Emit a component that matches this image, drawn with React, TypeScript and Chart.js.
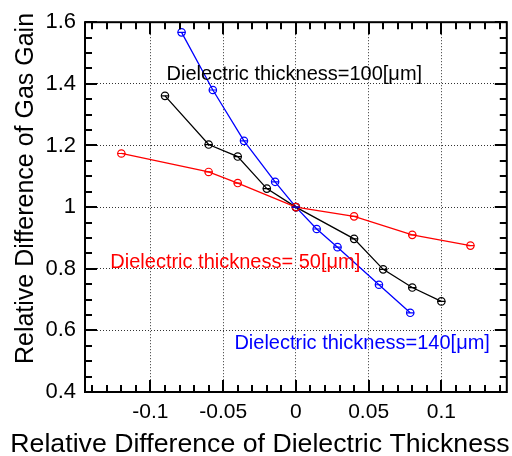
import React, { useEffect, useRef } from "react";
import { Chart, registerables } from "chart.js";
Chart.register(...registerables);

// Data (relative difference of dielectric thickness vs relative difference of gas gain)
const x140 = [-0.0786, -0.0571, -0.0357, -0.0143, 0, 0.0143, 0.0286, 0.0571, 0.0786];
const y140 = [1.567, 1.38, 1.215, 1.082, 1.0, 0.929, 0.87, 0.748, 0.657];
const x100 = [-0.09, -0.06, -0.04, -0.02, 0, 0.04, 0.06, 0.08, 0.1];
const y100 = [1.361, 1.203, 1.164, 1.06, 1.0, 0.897, 0.798, 0.739, 0.694];
const x50 = [-0.12, -0.06, -0.04, 0, 0.04, 0.08, 0.12];
const y50 = [1.174, 1.114, 1.078, 1.0, 0.97, 0.91, 0.875];

const xTicks = [-0.1, -0.05, 0, 0.05, 0.1];
const yTicks = [0.4, 0.6, 0.8, 1, 1.2, 1.4, 1.6];

const labels = [
  { text: "Dielectric thickness=100[\u03bcm]", color: "#000000", x: -0.0889, y: 1.411 },
  { text: "Dielectric thickness= 50[\u03bcm]", color: "#ff0000", x: -0.1276, y: 0.803 },
  { text: "Dielectric thickness=140[\u03bcm]", color: "#0000ff", x: -0.0423, y: 0.54 },
];

const xTitle = "Relative Difference of Dielectric Thickness";
const yTitle = "Relative Difference of Gas Gain";
const FONT = '"Liberation Sans", Arial, sans-serif';

const toPts = (xs: number[], ys: number[]) => xs.map((x, i) => ({ x, y: ys[i] }));

const framePlugin = {
  id: "frame",
  afterDatasetsDraw(chart: any) {
    const { ctx, chartArea: a, scales } = chart;
    const xs = scales.x;
    const ys = scales.y;
    ctx.save();
    // horizontal bars through markers
    chart.data.datasets.forEach((ds: any, di: number) => {
      const meta = chart.getDatasetMeta(di);
      ctx.strokeStyle = ds.borderColor;
      ctx.lineWidth = 1.2;
      ctx.beginPath();
      meta.data.forEach((p: any) => {
        ctx.moveTo(p.x - 4, p.y);
        ctx.lineTo(p.x + 4, p.y);
      });
      ctx.stroke();
    });
    // frame
    ctx.strokeStyle = "#000";
    ctx.lineWidth = 2;
    ctx.strokeRect(a.left, a.top, a.right - a.left, a.bottom - a.top);
    ctx.beginPath();
    for (let i = -14; i <= 14; i++) {
      const px = Math.round(xs.getPixelForValue(i / 100));
      const len = i % 5 === 0 ? 12 : 7;
      ctx.moveTo(px, a.bottom);
      ctx.lineTo(px, a.bottom - len);
      ctx.moveTo(px, a.top);
      ctx.lineTo(px, a.top + len);
    }
    for (let i = 8; i <= 32; i++) {
      const py = Math.round(ys.getPixelForValue(i * 0.05));
      const len = i % 4 === 0 ? 12 : 7;
      ctx.moveTo(a.left, py);
      ctx.lineTo(a.left + len, py);
      ctx.moveTo(a.right, py);
      ctx.lineTo(a.right - len, py);
    }
    ctx.stroke();
    // annotations
    ctx.font = `20px ${FONT}`;
    ctx.textAlign = "left";
    ctx.textBaseline = "alphabetic";
    labels.forEach((l) => {
      ctx.fillStyle = l.color;
      ctx.fillText(l.text, xs.getPixelForValue(l.x), ys.getPixelForValue(l.y));
    });
    // axis titles
    ctx.fillStyle = "#000";
    ctx.font = `26.7px ${FONT}`;
    ctx.textAlign = "center";
    ctx.fillText(xTitle, 260, 452);
    ctx.translate(33, 188.5);
    ctx.rotate(-Math.PI / 2);
    ctx.font = `25px ${FONT}`;
    ctx.fillText(yTitle, 0, 0);
    ctx.restore();
  },
};

export default function App() {
  const ref = useRef<HTMLCanvasElement | null>(null);
  useEffect(() => {
    if (!ref.current) return;
    const mk = (data: any[], color: string) => ({
      data,
      borderColor: color,
      backgroundColor: "rgba(0,0,0,0)",
      borderWidth: 1.3,
      pointRadius: 3.7,
      pointBorderWidth: 1.2,
      pointBorderColor: color,
      pointBackgroundColor: "rgba(0,0,0,0)",
      showLine: true,
      tension: 0,
      fill: false,
    });
    const chart = new Chart(ref.current, {
      type: "scatter",
      data: {
        datasets: [
          mk(toPts(x50, y50), "#ff0000"),
          mk(toPts(x100, y100), "#000000"),
          mk(toPts(x140, y140), "#0000ff"),
        ],
      },
      options: {
        animation: false,
        responsive: false,
        devicePixelRatio: 1,
        layout: { padding: { left: 0, top: 17, right: 3, bottom: 0 } },
        plugins: { legend: { display: false }, tooltip: { enabled: false } },
        scales: {
          x: {
            type: "linear",
            min: -0.145,
            max: 0.145,
            afterFit: (s: any) => {
              s.height = 64;
            },
            afterBuildTicks: (s: any) => {
              s.ticks = xTicks.map((v) => ({ value: v }));
            },
            grid: { color: "#333", lineWidth: 1, drawTicks: false },
            border: { display: false, dash: [1, 2] },
            ticks: {
              color: "#000",
              font: { family: FONT, size: 21 },
              padding: 8,
              autoSkip: false,
              maxRotation: 0,
              callback: (v: any) => String(v),
            },
          },
          y: {
            type: "linear",
            min: 0.4,
            max: 1.6,
            afterFit: (s: any) => {
              s.width = 85;
            },
            afterBuildTicks: (s: any) => {
              s.ticks = yTicks.map((v) => ({ value: v }));
            },
            grid: { color: "#333", lineWidth: 1, drawTicks: false },
            border: { display: false, dash: [1, 2] },
            ticks: {
              color: "#000",
              font: { family: FONT, size: 22 },
              padding: 9,
              autoSkip: false,
              callback: (v: any) => String(v),
            },
          },
        },
      },
      plugins: [framePlugin],
    });
    return () => chart.destroy();
  }, []);
  return (
    <div style={{ position: "absolute", left: 0, top: 0, width: 512, height: 456, background: "#fff" }}>
      <canvas ref={ref} width={512} height={456} style={{ width: 512, height: 456, display: "block" }} />
    </div>
  );
}
